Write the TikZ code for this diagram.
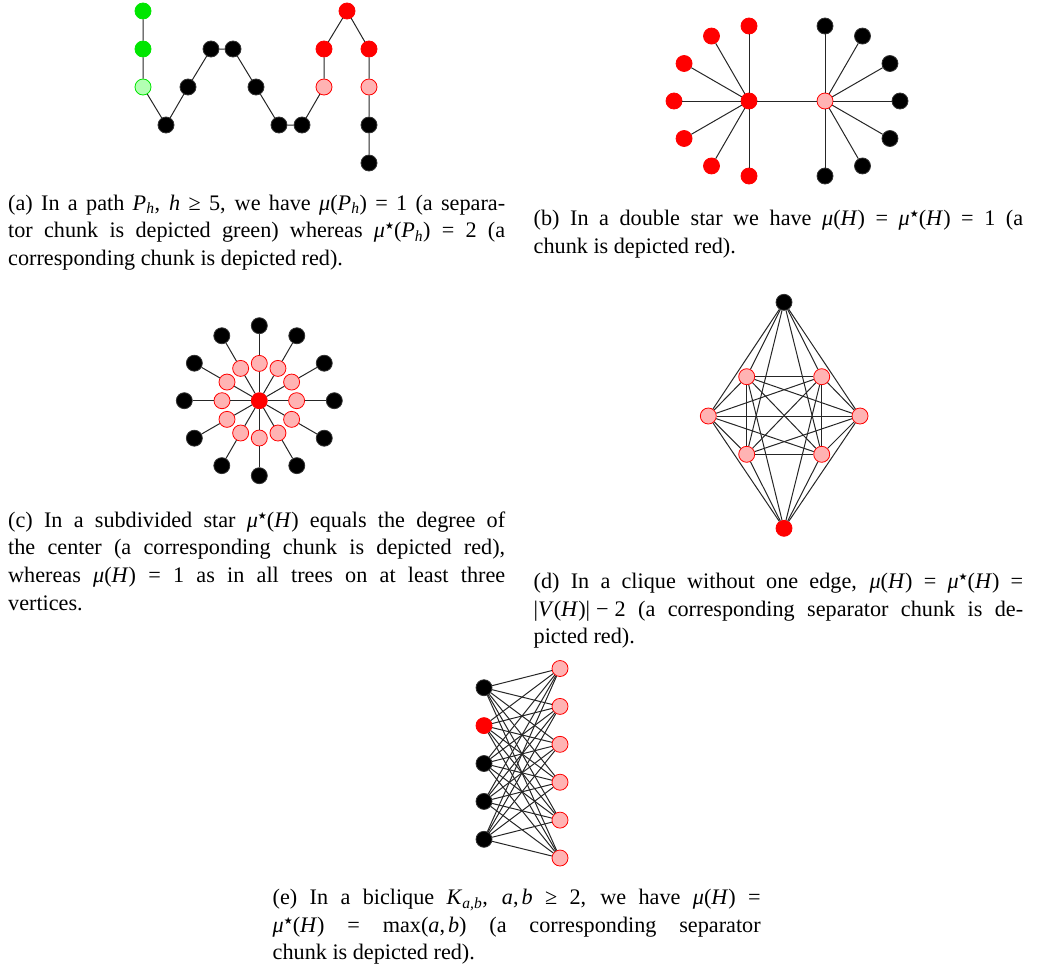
\documentclass[tikz,border=0pt]{standalone}
\usepackage{fontspec}
\setmainfont{Liberation Serif}
\newfontfamily\dejavu{DejaVu Sans}
\definecolor{vgreen}{RGB}{0,230,0}
\definecolor{lgreen}{RGB}{179,255,179}
\definecolor{vred}{RGB}{255,0,0}
\definecolor{lred}{RGB}{255,179,179}
\newcommand\capfont{\fontsize{22.2}{27.6}\selectfont}
\newcommand\mmu{\textit{μ}}
\newcommand\stx{\raisebox{0.8ex}{\dejavu\fontsize{10}{10}\selectfont ★}}
\newcommand\iv[1]{\textit{#1}}
\newcommand\sub[1]{\textsubscript{\textit{#1}}}
\tikzset{
 vtx/.style={circle,inner sep=0pt,minimum size=16pt,line width=0.8pt},
 blk/.style={vtx,fill=black,draw=black!80},
 rd/.style={vtx,fill=vred,draw=vred},
 pk/.style={vtx,fill=lred,draw=vred},
 gr/.style={vtx,fill=vgreen,draw=vgreen},
 lg/.style={vtx,fill=lgreen,draw=vgreen},
 edge/.style={draw=black!85,line width=1pt},
 captext/.style={anchor=base west,inner sep=0pt,font=\capfont}
}
\begin{document}
\begin{tikzpicture}[x=1pt,y=-1pt]
\useasboundingbox (0,0) rectangle (1041,972);
% ---------- (a) path ----------
\foreach \n/\x/\y/\s in {1/143/11/gr,2/143/49/gr,3/143/87/lg,4/166/125/blk,5/188/87/blk,6/211/49/blk,7/233/49/blk,8/256/87/blk,9/279/125/blk,10/302/125/blk,11/324/87/pk,12/324/49/rd,13/347/11/rd,14/369/49/rd,15/369/87/pk,16/369/125/blk,17/369/163/blk}
  \node[\s] (a\n) at (\x,\y) {};
\draw[edge] (a1)--(a2)--(a3)--(a4)--(a5)--(a6)--(a7)--(a8)--(a9)--(a10)--(a11)--(a12)--(a13)--(a14)--(a15)--(a16)--(a17);
% ---------- (b) double star ----------
\node[rd] (bL) at (749,101) {};
\node[pk] (bR) at (825,101) {};
\draw[edge] (bL)--(bR);
\foreach \a [count=\i] in {90,120,...,270}{
  \node[rd] (bl\i) at ({749+75*cos(\a)},{101-75*sin(\a)}) {};
  \draw[edge] (bL)--(bl\i);}
\foreach \a [count=\i] in {-90,-60,...,90}{
  \node[blk] (br\i) at ({825+75*cos(\a)},{101-75*sin(\a)}) {};
  \draw[edge] (bR)--(br\i);}
% ---------- (c) subdivided star ----------
\node[rd] (cC) at (259.3,400.7) {};
\foreach \a [count=\i] in {0,30,...,330}{
  \node[pk] (ci\i) at ({259.3+37.3*cos(\a)},{400.7-37.3*sin(\a)}) {};
  \node[blk] (co\i) at ({259.3+75*cos(\a)},{400.7-75*sin(\a)}) {};
  \draw[edge] (cC)--(ci\i)--(co\i);}
% ---------- (d) clique minus an edge ----------
\foreach \n/\x/\y/\s in {1/784/302.3/blk,2/746.7/376.7/pk,3/821.7/376.7/pk,4/708.3/416/pk,5/860/416/pk,6/746.7/454.3/pk,7/821.7/454.3/pk,8/784/528.3/rd}
  \node[\s] (d\n) at (\x,\y) {};
\foreach \i in {1,...,7}{
  \pgfmathtruncatemacro\s{\i+1}
  \foreach \j in {\s,...,8}{
    \ifnum\numexpr\i*10+\j\relax=18 \else \draw[edge] (d\i)--(d\j); \fi}}
% ---------- (e) biclique ----------
\foreach \k in {1,...,5}{
  \pgfmathsetmacro\yy{687.7+37.9*(\k-1)}
  \ifnum\k=2 \node[rd] (el\k) at (484,\yy) {}; \else \node[blk] (el\k) at (484,\yy) {}; \fi}
\foreach \k in {1,...,6}{
  \pgfmathsetmacro\yy{668.5+37.9*(\k-1)}
  \node[pk] (er\k) at (560,\yy) {};}
\foreach \i in {1,...,5}{\foreach \j in {1,...,6}{\draw[edge] (el\i)--(er\j);}}
% ---------- captions ----------
\node[captext] (ca1) at (8,210) {\hbox to 497pt{(a) In a path \iv{P}\sub{h}, \iv{h} ≥ 5, we have \mmu(\iv{P}\sub{h}) = 1 (a separa-}};
\node[captext] (ca2) at (8,237.6) {\hbox to 497pt{tor chunk is depicted green) whereas \mmu\stx(\iv{P}\sub{h}) = 2 (a}};
\node[captext] (ca3) at (8,265.2) {corresponding chunk is depicted red).};
\node[captext] (cb1) at (533.5,225.7) {\hbox to 489.5pt{(b) In a double star we have \mmu(\iv{H}) = \mmu\stx(\iv{H}) = 1 (a}};
\node[captext] (cb2) at (533.5,253.3) {chunk is depicted red).};
\node[captext] (cc1) at (8,527.3) {\hbox to 497pt{(c) In a subdivided star \mmu\stx(\iv{H}) equals the degree of}};
\node[captext] (cc2) at (8,554.9) {\hbox to 497pt{the center (a corresponding chunk is depicted red),}};
\node[captext] (cc3) at (8,582.5) {\hbox to 497pt{whereas \mmu(\iv{H}) = 1 as in all trees on at least three}};
\node[captext] (cc4) at (8,610.1) {vertices.};
\node[captext] (cd1) at (533.5,588.7) {\hbox to 489.5pt{(d) In a clique without one edge, \mmu(\iv{H}) = \mmu\stx(\iv{H}) =}};
\node[captext] (cd2) at (533.5,616.3) {\hbox to 489.5pt{|\iv{V}(\iv{H})|\kern6pt−\kern6pt2 (a corresponding separator chunk is de-}};
\node[captext] (cd3) at (533.5,643.9) {picted red).};
\node[captext] (ce1) at (272.5,904.7) {\hbox to 488pt{(e) In a biclique \iv{K}\sub{a,b}, \iv{a},\kern3pt\iv{b} ≥ 2, we have \mmu(\iv{H}) =}};
\node[captext] (ce2) at (272.5,932.3) {\hbox to 488pt{\mmu\stx(\iv{H}) = max(\iv{a},\kern3pt\iv{b}) (a corresponding separator}};
\node[captext] (ce3) at (272.5,959.9) {chunk is depicted red).};
\end{tikzpicture}
\end{document}
